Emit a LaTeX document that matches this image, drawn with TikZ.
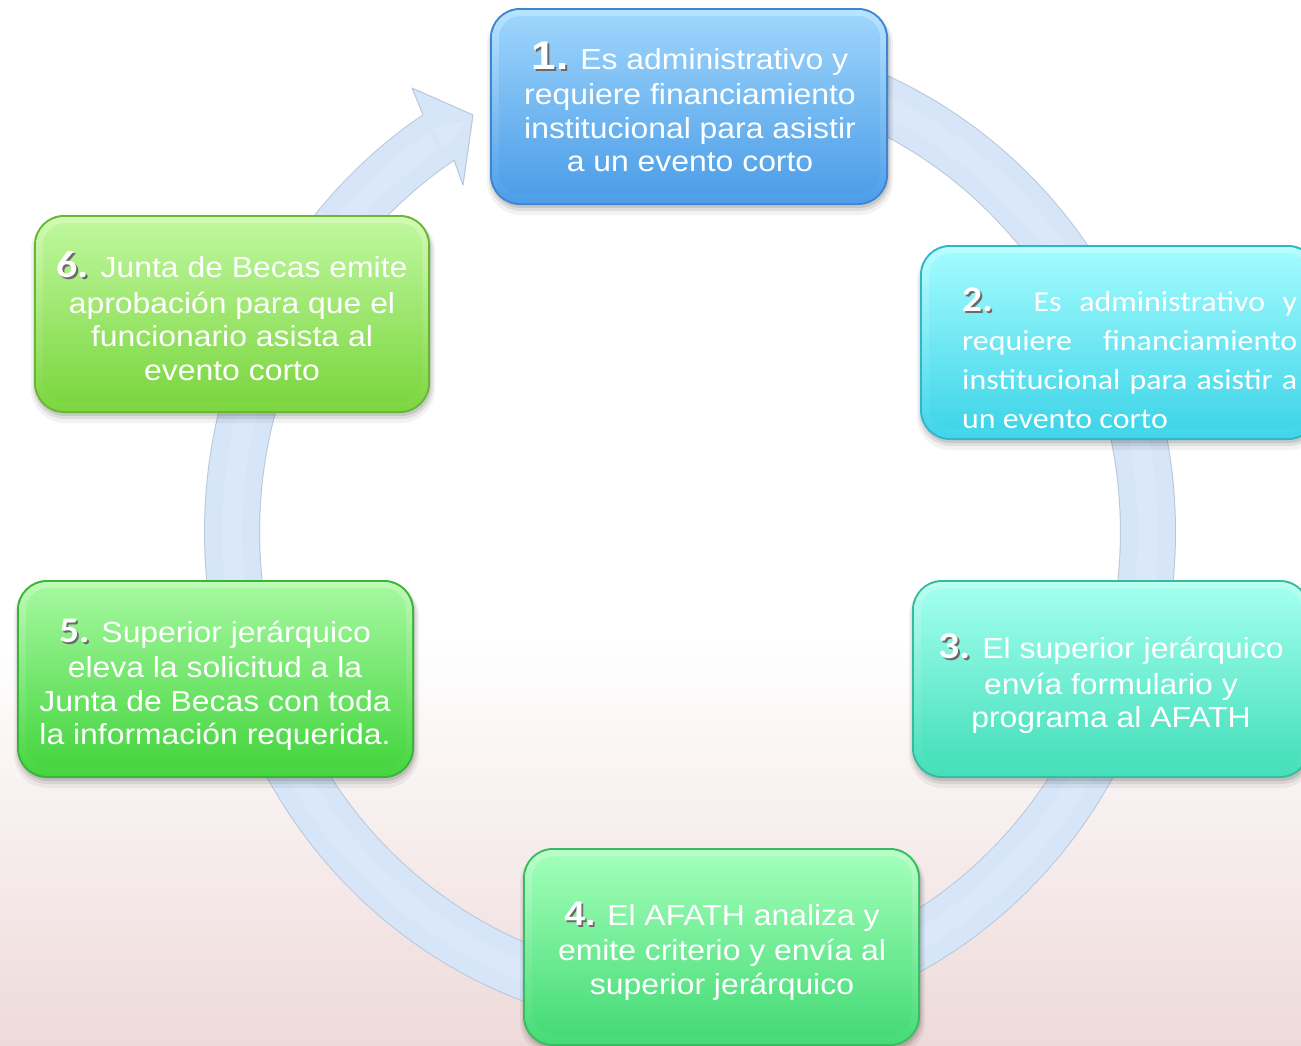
\documentclass[tikz,border=0pt]{standalone}
\usepackage{fontspec}
\setmainfont{Liberation Sans}[FakeStretch=1.1]
\newfontfamily\cbfont{Carlito}[FakeStretch=1.1]
\usetikzlibrary{calc}

% background and ring
\definecolor{pinkbg}{HTML}{EEDADA}
\definecolor{ringedge}{HTML}{B9C7DA}
\definecolor{ringfill}{HTML}{D6E5F8}
\definecolor{ringlight}{HTML}{E1ECFB}
\definecolor{numshadow}{HTML}{6A6A6A}
% box palettes: edge, rim, top, bottom
\definecolor{bAedge}{HTML}{3F86D2}\definecolor{bArim}{HTML}{B8E4FF}\definecolor{bAtop}{HTML}{9DD5FC}\definecolor{bAbot}{HTML}{4D9EE8}
\definecolor{bBedge}{HTML}{30B6C9}\definecolor{bBrim}{HTML}{BBFEFF}\definecolor{bBtop}{HTML}{A2FBFE}\definecolor{bBbot}{HTML}{40D5E9}
\definecolor{bCedge}{HTML}{33BD9F}\definecolor{bCrim}{HTML}{BCFFF1}\definecolor{bCtop}{HTML}{A2FFEF}\definecolor{bCbot}{HTML}{45DFBA}
\definecolor{bDedge}{HTML}{37BC62}\definecolor{bDrim}{HTML}{BBFFCB}\definecolor{bDtop}{HTML}{A1FFB8}\definecolor{bDbot}{HTML}{46DB77}
\definecolor{bEedge}{HTML}{38B532}\definecolor{bErim}{HTML}{BEFBB8}\definecolor{bEtop}{HTML}{A4F89E}\definecolor{bEbot}{HTML}{45D53F}
\definecolor{bFedge}{HTML}{67B734}\definecolor{bFrim}{HTML}{D2FBB4}\definecolor{bFtop}{HTML}{BEF79D}\definecolor{bFbot}{HTML}{7CD640}

% glossy rounded panel: #1 palette, #2,#3 top-left, #4,#5 bottom-right
\newcommand\glossybox[5]{%
  \fill[black,opacity=.05,rounded corners=34pt] (#2-3,#3+2) rectangle (#4+5,#5+10);
  \fill[black,opacity=.08,rounded corners=32pt] (#2-1,#3+3) rectangle (#4+3,#5+6);
  \fill[black,opacity=.10,rounded corners=30pt] (#2+1,#3+3) rectangle (#4+1,#5+3);
  \fill[#1edge,rounded corners=30pt] (#2,#3) rectangle (#4,#5);
  \shade[rounded corners=28pt,top color=#1rim,bottom color=#1bot] (#2+2,#3+2) rectangle (#4-2,#5-2);
  \shade[rounded corners=22pt,top color=#1top,bottom color=#1bot] (#2+9,#3+8) rectangle (#4-8,#5-11);
}
% step number with its grey drop shadow
\newcommand\shnum[1]{\makebox[0pt][l]{\kern1.8pt\raisebox{-1.8pt}{\textcolor{numshadow}{#1}}}#1}
\newcommand\numArial[2]{{\fontsize{#1}{#1}\selectfont\bfseries\shnum{#2}}}
\newcommand\numCalibri[2]{{\cbfont\fontsize{#1}{#1}\selectfont\bfseries\shnum{#2}}}

\tikzset{
  steptext/.style={text=white,align=center,inner sep=0pt,
    font=\fontsize{29}{33.5}\selectfont},
}

\begin{document}
\begin{tikzpicture}[x=1pt,y=-1pt]
\useasboundingbox (0,0) rectangle (1301,1045);
\clip (0,0) rectangle (1301,1045);

% page background
\fill[white] (0,0) rectangle (1301,1045);
\shade[top color=white,bottom color=pinkbg] (0,640) rectangle (1301,1046);

% circular arrow running clockwise through the six steps
\foreach \lw/\lc in {56/ringedge,54/ringfill} {
  \draw[line width=\lw pt,\lc] plot[domain=-80:237.5,samples=260,variable=\t]
    ({690+458*cos(\t)},{532+472*sin(\t)});
}
\draw[line width=20pt,ringlight,opacity=.5] plot[domain=-80:236,samples=260,variable=\t]
    ({690+458*cos(\t)},{532+472*sin(\t)});
\coordinate (hout) at (412,88);
\coordinate (htip) at (473,115);
\coordinate (hin)  at (463,185);
\coordinate (bein) at (454,160);
\coordinate (beout) at (423,114.6);
\fill[ringfill] (beout) -- (hout) -- (htip) -- (hin) -- (bein) -- cycle;
\fill[ringlight,opacity=.5] (432,128) -- (466,121) -- (446,148) -- cycle;
\draw[ringedge,line width=1pt,line join=round] (beout) -- (hout) -- (htip) -- (hin) -- (bein);

% step panels
\glossybox{bA}{490}{8}{888}{205}
\glossybox{bB}{920}{245}{1318}{440}
\glossybox{bC}{912}{580}{1310}{778}
\glossybox{bD}{523}{848}{920}{1046}
\glossybox{bE}{17}{580}{414}{778}
\glossybox{bF}{34}{215}{430}{413}

% step texts
\node[steptext] (s1) at (690,107) {\numArial{40}{1.} Es administrativo y\\[2pt]
  requiere financiamiento\\ institucional para asistir\\ a un evento corto};
\node[steptext,align=left,anchor=west,font=\cbfont\fontsize{29}{39}\selectfont] (s2) at (962,358)
  {\makebox[335pt][s]{\numCalibri{36}{2.} Es administrativo y}\\
   \makebox[335pt][s]{requiere financiamiento}\\
   \makebox[335pt][s]{institucional para asistir a}\\
   un evento corto};
\node[steptext] (s3) at (1111,684) {\numCalibri{38}{3.} El superior jerárquico\\[2pt]
  envía formulario y\\ programa al AFATH};
\node[steptext] (s4) at (722,951) {\numArial{34}{4.} El AFATH analiza y\\[2pt]
  emite criterio y envía al\\ superior jerárquico};
\node[steptext] (s5) at (215,685) {\numCalibri{36}{5.} Superior jerárquico\\[2pt]
  eleva la solicitud a la\\ Junta de Becas con toda\\ la información requerida.};
\node[steptext] (s6) at (232,316) {\numCalibri{38}{6.} Junta de Becas emite\\[2pt]
  aprobación para que el\\ funcionario asista al\\ evento corto};
\end{tikzpicture}
\end{document}
